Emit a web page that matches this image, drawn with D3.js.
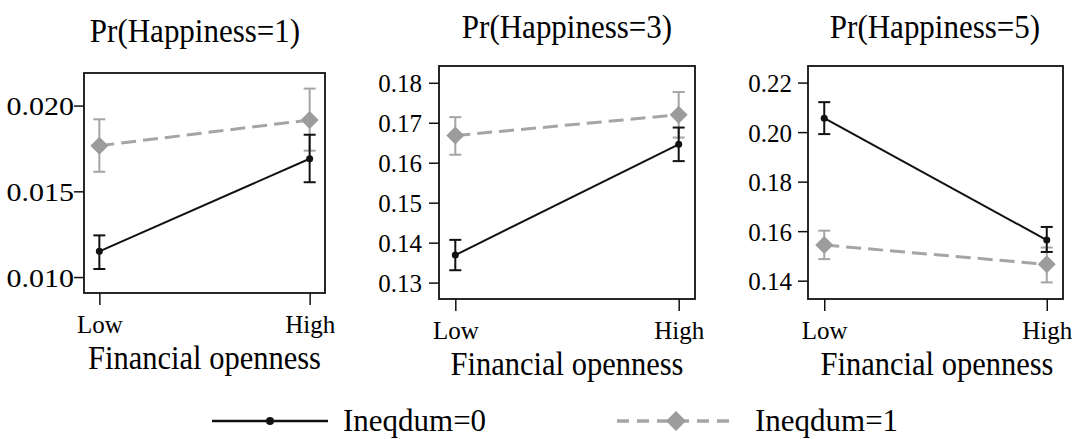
<!DOCTYPE html>
<html>
<head>
<meta charset="utf-8">
<script src="https://cdn.jsdelivr.net/npm/d3@7"></script>
<style>
  html, body { margin: 0; padding: 0; background: #fff; }
  svg { display: block; }
  svg text { font-family: "Liberation Serif", "DejaVu Serif", serif !important; fill: #000; }
</style>
</head>
<body>
<svg id="chart" width="1084" height="439"></svg>
<script>
// Predicted probabilities with confidence intervals, by financial openness level
const levels = ["Low", "High"];
const panelTitles = ["Pr(Happiness=1)", "Pr(Happiness=3)", "Pr(Happiness=5)"];
const xAxisTitle = "Financial openness";
const seriesNames = ["Ineqdum=0", "Ineqdum=1"];

// Ineqdum=0: estimate, lower and upper bound per panel, [Low, High]
const est0 = [[0.0115, 0.0169], [0.1369, 0.1646], [0.2056, 0.1564]];
const lo0  = [[0.01047, 0.01553], [0.1331, 0.1604], [0.1992, 0.1516]];
const hi0  = [[0.01243, 0.0183], [0.1407, 0.1688], [0.2121, 0.1617]];

// Ineqdum=1
const est1 = [[0.01766, 0.01916], [0.1668, 0.1720], [0.1544, 0.1466]];
const lo1  = [[0.01614, 0.01737], [0.1620, 0.1663], [0.1487, 0.1393]];
const hi1  = [[0.0192, 0.02099], [0.1714, 0.1777], [0.1602, 0.1534]];

// y-axis ticks and ranges
const yTicks = [[0.010, 0.015, 0.020], [0.13, 0.14, 0.15, 0.16, 0.17, 0.18], [0.14, 0.16, 0.18, 0.20, 0.22]];
const yTickFormats = [".3f", ".2f", ".2f"];
const yDomains = [[0.00907, 0.0219], [0.1259, 0.1842], [0.1326, 0.2267]];

// ---- layout ----
const FONT = "'Liberation Serif', 'DejaVu Serif', serif";
const panels = [
  { left: 84,  right: 325,  top: 73, bottom: 293, titleX: 195, titleY: 42, axisTitleX: 204.5, labelStretch: 1.2, labelGap: 10 },
  { left: 439, right: 695,  top: 66, bottom: 299, titleX: 567, titleY: 38, axisTitleX: 567,   labelStretch: 1.0, labelGap: 17 },
  { left: 808, right: 1063, top: 66, bottom: 299, titleX: 935, titleY: 38, axisTitleX: 937,   labelStretch: 1.0, labelGap: 16 }
];

const BLACK = "#111";
const GRAY = "#a5a5a5";
const GRAY_MARK = "#9c9c9c";

const svg = d3.select("#chart").attr("font-family", FONT);

function diamondPath(r) {
  return `M0,${-r}L${r},0L0,${r}L${-r},0Z`;
}

function drawSeries(g, x, y, est, lo, hi, style) {
  const pts = levels.map((lv, j) => ({ lv, v: est[j], l: lo[j], h: hi[j] }));
  // connecting line
  g.append("path")
    .datum(pts)
    .attr("fill", "none")
    .attr("stroke", style.lineColor)
    .attr("stroke-width", style.lineWidth)
    .attr("stroke-dasharray", style.dash || null)
    .attr("d", d3.line().x(d => x(d.lv)).y(d => y(d.v)));
  // confidence intervals
  const ci = g.selectAll(null).data(pts).enter().append("g");
  ci.append("line")
    .attr("x1", d => x(d.lv)).attr("x2", d => x(d.lv))
    .attr("y1", d => y(d.l)).attr("y2", d => y(d.h))
    .attr("stroke", style.ciColor).attr("stroke-width", 2);
  ["l", "h"].forEach(k => {
    ci.append("line")
      .attr("x1", d => x(d.lv) - 6).attr("x2", d => x(d.lv) + 6)
      .attr("y1", d => y(d[k])).attr("y2", d => y(d[k]))
      .attr("stroke", style.ciColor).attr("stroke-width", 2);
  });
  // markers
  if (style.marker === "circle") {
    g.selectAll(null).data(pts).enter().append("circle")
      .attr("cx", d => x(d.lv)).attr("cy", d => y(d.v)).attr("r", 3.5)
      .attr("fill", style.markColor);
  } else {
    g.selectAll(null).data(pts).enter().append("path")
      .attr("d", diamondPath(9))
      .attr("transform", d => `translate(${x(d.lv)},${y(d.v)})`)
      .attr("fill", style.markColor);
  }
}

panels.forEach((p, i) => {
  const g = svg.append("g");
  const x = d3.scalePoint().domain(levels).range([p.left, p.right]).padding(0.073);
  const y = d3.scaleLinear().domain(yDomains[i]).range([p.bottom, p.top]);

  // title
  g.append("text")
    .attr("transform", `translate(${p.titleX},${p.titleY}) scale(1,1.07)`)
    .attr("text-anchor", "middle")
    .attr("font-size", 31)
    .text(panelTitles[i]);

  // y axis
  const yAxis = g.append("g")
    .attr("transform", `translate(${p.left},0)`)
    .call(d3.axisLeft(y).tickValues(yTicks[i]).tickFormat(d3.format(yTickFormats[i])).tickSize(10).tickSizeOuter(0))
    .attr("font-family", FONT).attr("font-size", 25);
  yAxis.select(".domain").remove();
  yAxis.selectAll(".tick line").attr("stroke", BLACK).attr("stroke-width", 1.5);
  yAxis.selectAll(".tick text")
    .attr("x", null).attr("dy", null)
    .attr("transform", `translate(${-p.labelGap},9) scale(${p.labelStretch},1)`)
    .attr("text-anchor", "end")
    .attr("fill", "#000");

  // x axis
  const xAxis = g.append("g")
    .attr("transform", `translate(0,${p.bottom})`)
    .call(d3.axisBottom(x).tickSize(12).tickSizeOuter(0))
    .attr("font-family", FONT).attr("font-size", 25);
  xAxis.select(".domain").remove();
  xAxis.selectAll(".tick line").attr("stroke", BLACK).attr("stroke-width", 1.5);
  xAxis.selectAll(".tick text")
    .attr("y", 40).attr("dy", null)
    .attr("fill", "#000");

  g.append("text")
    .attr("transform", `translate(${p.axisTitleX},${p.bottom + 76}) scale(1,1.1)`)
    .attr("text-anchor", "middle")
    .attr("font-size", 30.5)
    .text(xAxisTitle);

  // plot frame
  g.append("rect")
    .attr("x", p.left).attr("y", p.top)
    .attr("width", p.right - p.left).attr("height", p.bottom - p.top)
    .attr("fill", "none").attr("stroke", BLACK).attr("stroke-width", 1.8);

  const plot = g.append("g");
  drawSeries(plot, x, y, est1[i], lo1[i], hi1[i],
    { lineColor: GRAY, lineWidth: 3, dash: "15,7", ciColor: GRAY, markColor: GRAY_MARK, marker: "diamond" });
  drawSeries(plot, x, y, est0[i], lo0[i], hi0[i],
    { lineColor: BLACK, lineWidth: 2, ciColor: BLACK, markColor: BLACK, marker: "circle" });
});

// legend
const legendItems = [
  { name: seriesNames[0], x1: 212, x2: 328, color: BLACK, width: 2.5, dash: null, marker: "circle", tx: 343 },
  { name: seriesNames[1], x1: 617, x2: 735, color: GRAY, width: 3.5, dash: "12,8", marker: "diamond", tx: 755 }
];
const legend = svg.append("g");
legendItems.forEach(it => {
  const ly = 421;
  legend.append("line")
    .attr("x1", it.x1).attr("x2", it.x2).attr("y1", ly).attr("y2", ly)
    .attr("stroke", it.color).attr("stroke-width", it.width)
    .attr("stroke-dasharray", it.dash);
  const cx = (it.x1 + it.x2) / 2;
  if (it.marker === "circle") {
    legend.append("circle").attr("cx", cx).attr("cy", ly).attr("r", 4).attr("fill", BLACK);
  } else {
    legend.append("path").attr("d", diamondPath(10)).attr("transform", `translate(${cx},${ly})`).attr("fill", GRAY_MARK);
  }
  legend.append("text")
    .attr("transform", `translate(${it.tx},${ly + 10}) scale(1,1.05)`)
    .attr("font-size", 31)
    .text(it.name);
});
</script>
</body>
</html>
